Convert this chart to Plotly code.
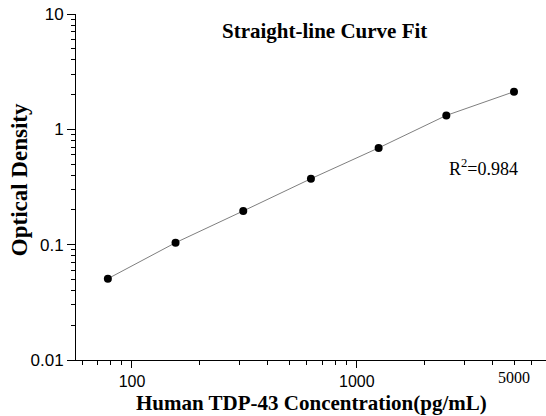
import numpy as np
import plotly.graph_objects as go

# Data
concentration = [78.125, 156.25, 312.5, 625, 1250, 2500, 5000]
optical_density = [0.0507, 0.104, 0.196, 0.373, 0.690, 1.32, 2.12]

x_tickvals = [100, 1000]
x_ticktext = ["100", "1000"]
x_minor = [60, 70, 80, 90, 200, 300, 400, 500, 600, 700, 800, 900,
           2000, 3000, 4000, 5000, 6000]
y_tickvals = [0.01, 0.1, 1, 10]
y_ticktext = ["0.01", "0.1", "1", "10"]
y_minor = [m * 10.0 ** e for e in (-2, -1, 0) for m in range(2, 10)]

serif = "Liberation Serif"
sans = "Liberation Sans"

fig = go.Figure()
fig.add_trace(go.Scatter(
    x=concentration, y=optical_density, mode="lines+markers",
    line=dict(color="#7f7f7f", width=1),
    marker=dict(color="black", size=8),
    showlegend=False,
))

fig.update_layout(
    width=546, height=416,
    margin=dict(l=76, r=0, t=14, b=56),
    paper_bgcolor="white", plot_bgcolor="white",
    xaxis=dict(
        type="log", range=[1.7511, 3.8413],
        showline=True, linecolor="black", linewidth=1,
        showgrid=False, zeroline=False,
        ticks="outside", ticklen=7, tickcolor="black",
        tickvals=x_tickvals, ticktext=x_ticktext,
        tickfont=dict(family=sans, size=16, color="black"),
        minor=dict(tickvals=x_minor, ticks="outside", ticklen=4,
                   tickcolor="black", showgrid=False),
    ),
    yaxis=dict(
        type="log", range=[-2, 1],
        showline=True, linecolor="black", linewidth=1,
        showgrid=False, zeroline=False,
        ticks="outside", ticklen=8, tickcolor="black",
        tickvals=y_tickvals, ticktext=y_ticktext,
        tickfont=dict(family=sans, size=17, color="black"),
        minor=dict(tickvals=y_minor, ticks="outside", ticklen=4,
                   tickcolor="black", showgrid=False),
    ),
    annotations=[
        dict(text="<b>Straight-line Curve Fit</b>", xref="paper", yref="paper",
             x=0.529, y=0.951, xanchor="center", yanchor="middle", showarrow=False,
             font=dict(family=serif, size=21, color="black")),
        dict(text="R<sup>2</sup>=0.984", xref="paper", yref="paper",
             x=0.866, y=0.555, xanchor="center", yanchor="middle", showarrow=False,
             font=dict(family=serif, size=18, color="black")),
        dict(text="5000", xref="x", yref="paper", x=np.log10(5000), y=-0.052,
             xanchor="center", yanchor="middle", showarrow=False,
             font=dict(family=serif, size=16, color="black")),
        dict(text="<b>Human TDP-43 Concentration(pg/mL)</b>", xref="paper", yref="paper",
             x=0.5, y=-0.124, xanchor="center", yanchor="middle", showarrow=False,
             font=dict(family=serif, size=21, color="black")),
        dict(text="<b>Optical Density</b>", xref="paper", yref="paper",
             x=-0.121, y=0.52, xanchor="center", yanchor="middle", showarrow=False,
             textangle=-90,
             font=dict(family=serif, size=23, color="black")),
    ],
)

fig.write_html("out.html", config={"displayModeBar": False},
               post_script="document.body.style.margin='0px';")
